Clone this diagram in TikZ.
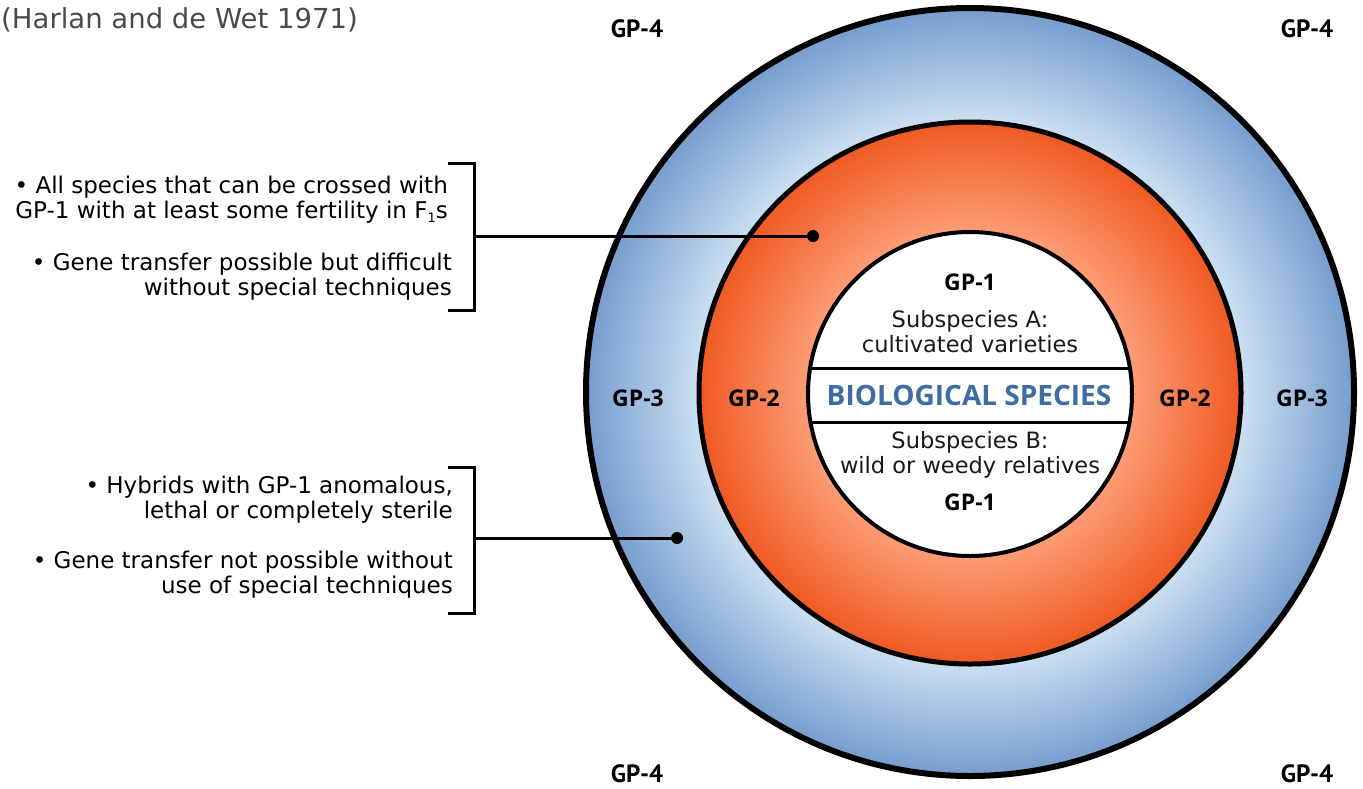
\documentclass[tikz,border=0pt]{standalone}
\usepackage{fontspec}
\setmainfont{DejaVu Sans}
\newfontfamily\gpf{Open Sans}
\newfontfamily\gpfour{PT Sans}
\definecolor{ringlight}{HTML}{CCE0F2}
\definecolor{ringdark}{HTML}{769DCE}
\definecolor{orlight}{HTML}{FC9C75}
\definecolor{ordark}{HTML}{F05A22}
\definecolor{titlegray}{HTML}{4A4A4A}
\definecolor{specblue}{HTML}{3F6CA2}
\pgfdeclareradialshading{bluering}{\pgfpoint{0bp}{0bp}}{color(0bp)=(ringlight); color(17.6bp)=(ringlight); color(25bp)=(ringdark); color(50bp)=(ringdark)}
\pgfdeclareradialshading{orangering}{\pgfpoint{0bp}{0bp}}{color(0bp)=(orlight); color(15bp)=(orlight); color(25bp)=(ordark); color(50bp)=(ordark)}
\tikzset{
  txt/.style={inner sep=0pt, font=\fontsize{23}{25}\selectfont, text=black},
  intxt/.style={inner sep=0pt, font=\fontsize{22.5}{25}\selectfont, text=black!90},
  titletxt/.style={inner sep=0pt, font=\fontsize{27.5}{30}\selectfont, text=titlegray},
  gp/.style={inner sep=0pt, font=\gpf\bfseries\fontsize{23}{26}\selectfont},
  gpq/.style={inner sep=0pt, font=\gpfour\bfseries\fontsize{25}{28}\selectfont},
  bio/.style={inner sep=0pt, font=\gpf\bfseries\fontsize{28}{30}\selectfont, text=specblue},
  dotmark/.style={circle, fill=black, inner sep=0pt, minimum size=12pt},
  conn/.style={line width=3pt},
  ring/.style={circle, draw=black, inner sep=0pt}
}
\newcommand{\subone}{\raisebox{-0.35ex}{\fontsize{13}{13}\selectfont 1}}
\begin{document}
\begin{tikzpicture}[x=1pt,y=-1pt]
\useasboundingbox (0,0) rectangle (1363,788);
% rings
\node[ring, shading=bluering, line width=6pt, minimum size=768pt] (outer) at (970,392) {};
\node[ring, shading=orangering, line width=5pt, minimum size=542pt] (middle) at (970,393) {};
\node[ring, fill=white, line width=4pt, minimum size=324pt] (inner) at (970,394) {};
\begin{scope}
  \clip (inner.center) circle (162pt);
  \draw[conn] (790,368) -- (1150,368);
  \draw[conn] (790,422) -- (1150,422);
\end{scope}
% title
\node[titletxt, anchor=base east] (title) at (358,28) {(Harlan and de Wet 1971)};
% GP labels
\node[gp, anchor=base] (gp1a) at (970,290) {GP-1};
\node[gp, anchor=base] (gp1b) at (970,510) {GP-1};
\node[gp, anchor=base] (gp2l) at (754,406) {GP-2};
\node[gp, anchor=base] (gp2r) at (1185,406) {GP-2};
\node[gp, anchor=base] (gp3l) at (638,406) {GP-3};
\node[gp, anchor=base] (gp3r) at (1302,406) {GP-3};
\node[gpq, anchor=base] (gp4a) at (637,37) {GP-4};
\node[gpq, anchor=base] (gp4b) at (1307,37) {GP-4};
\node[gpq, anchor=base] (gp4c) at (637,782) {GP-4};
\node[gpq, anchor=base] (gp4d) at (1307,782) {GP-4};
% inner texts
\node[intxt, anchor=base] (sa1) at (970,327) {Subspecies A:};
\node[intxt, anchor=base] (sa2) at (970,352) {cultivated varieties};
\node[bio, anchor=base] (bio) at (969,405) {BIOLOGICAL SPECIES};
\node[intxt, anchor=base] (sb1) at (970,448) {Subspecies B:};
\node[intxt, anchor=base] (sb2) at (970,473) {wild or weedy relatives};
% upper bullet texts
\node[txt, anchor=base east] (u1) at (448,193) {• All species that can be crossed with};
\node[txt, anchor=base east] (u2) at (448,218) {GP-1 with at least some fertility in F\subone s};
\node[txt, anchor=base east] (u3) at (452,270) {• Gene transfer possible but difficult};
\node[txt, anchor=base east] (u4) at (452,295) {without special techniques};
% lower bullet texts
\node[txt, anchor=base east] (l1) at (453,493) {• Hybrids with GP-1 anomalous,};
\node[txt, anchor=base east] (l2) at (453,518) {lethal or completely sterile};
\node[txt, anchor=base east] (l3) at (453,568) {• Gene transfer not possible without};
\node[txt, anchor=base east] (l4) at (453,593) {use of special techniques};
% brackets and connectors
\draw[conn] (448,163) -- (474,163) -- (474,310) -- (448,310);
\coordinate (j1) at (474,236);
\node[dotmark] (d1) at (813,236) {};
\draw[conn] (j1) -- (d1.center);
\draw[conn] (448,467) -- (474,467) -- (474,613) -- (448,613);
\coordinate (j2) at (474,538);
\node[dotmark] (d2) at (677,538) {};
\draw[conn] (j2) -- (d2.center);
\end{tikzpicture}
\end{document}
